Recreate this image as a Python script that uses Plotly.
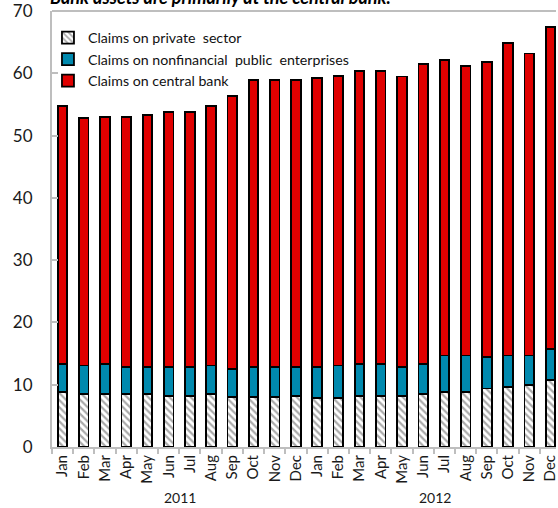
import plotly.graph_objects as go

months = ["Jan", "Feb", "Mar", "Apr", "May", "Jun", "Jul", "Aug", "Sep", "Oct", "Nov", "Dec"]
years = ["2011", "2012"]
categories = [f"{m} {y}" for y in years for m in months]
tick_labels = months * 2
y_ticks = [0, 10, 20, 30, 40, 50, 60, 70]

# Values in percent (stacked)
private_sector = [8.8, 8.5, 8.5, 8.5, 8.5, 8.2, 8.2, 8.5, 8.0, 8.0, 8.0, 8.2,
                  7.9, 7.9, 8.2, 8.2, 8.2, 8.5, 8.8, 8.8, 9.4, 9.7, 10.0, 10.8]
public_enterprises_top = [13.3, 13.1, 13.3, 12.8, 12.8, 12.8, 12.8, 13.1, 12.5, 12.8, 12.8, 12.8,
                          12.8, 13.1, 13.3, 13.3, 12.8, 13.3, 14.7, 14.7, 14.5, 14.7, 14.7, 15.7]
total = [54.8, 52.8, 53.0, 53.0, 53.3, 53.8, 53.8, 54.8, 56.4, 58.9, 58.9, 58.9,
         59.2, 59.6, 60.4, 60.4, 59.5, 61.5, 62.1, 61.2, 61.8, 64.9, 63.2, 67.5]

public_enterprises = [round(t - p, 2) for t, p in zip(public_enterprises_top, private_sector)]
central_bank = [round(t - p, 2) for t, p in zip(total, public_enterprises_top)]

FONT = "Lato"
AXIS_GRAY = "#BEBEBE"

fig = go.Figure()
fig.add_trace(go.Bar(
    x=categories, y=private_sector, name="Claims on private  sector",
    marker=dict(color="white",
                pattern=dict(shape="\\", fgcolor="#555555", bgcolor="white", size=5, solidity=0.45),
                line=dict(color="black", width=1.8)),
))
fig.add_trace(go.Bar(
    x=categories, y=public_enterprises, name="Claims on nonfinancial  public  enterprises",
    marker=dict(color="#0089AE", line=dict(color="black", width=1.8)),
))
fig.add_trace(go.Bar(
    x=categories, y=central_bank, name="Claims on central bank",
    marker=dict(color="#E00000", line=dict(color="black", width=1.8)),
))

fig.update_layout(
    width=558, height=508,
    margin=dict(l=52, r=0, t=11, b=61),
    barmode="stack", bargap=0.55,
    plot_bgcolor="white", paper_bgcolor="white",
    font=dict(family=FONT, color="#1a1a1a"),
    showlegend=True,
    legend=dict(x=-0.008, y=0.975, xanchor="left", yanchor="top",
                traceorder="normal", font=dict(size=14.2, family=FONT, color="#111111"),
                bgcolor="rgba(0,0,0,0)", itemwidth=30, tracegroupgap=0),
    xaxis=dict(
        type="category", range=[-0.5, 23.26],
        tickmode="array", tickvals=categories, ticktext=tick_labels,
        tickangle=-90, tickfont=dict(size=15, family=FONT),
        ticks="outside", tickson="boundaries", ticklen=5, tickcolor=AXIS_GRAY, tickwidth=2,
        showline=True, linecolor=AXIS_GRAY, linewidth=2, showgrid=False,
    ),
    yaxis=dict(
        range=[0, 70.02], tickmode="array", tickvals=y_ticks,
        tickfont=dict(size=17, family=FONT),
        ticks="inside", ticklen=6, tickcolor=AXIS_GRAY, tickwidth=2,
        ticklabelstandoff=14,
        showline=True, linecolor=AXIS_GRAY, linewidth=2, showgrid=False, zeroline=False,
    ),
    shapes=[dict(type="line", xref="paper", yref="paper", x0=0, x1=1, y0=1, y1=1,
                 line=dict(color=AXIS_GRAY, width=2))],
    annotations=[
        dict(text="<b><i>Bank assets are primarily at the central bank.</i></b>",
             xref="paper", yref="paper", x=0, y=1, xanchor="left", yanchor="bottom",
             xshift=-4, yshift=1, showarrow=False, font=dict(size=18, family=FONT, color="black")),
        dict(text=years[0], xref="x", yref="paper", x=categories[5], xshift=11,
             y=0, yanchor="top", yshift=-40, showarrow=False, font=dict(size=14, family=FONT)),
        dict(text=years[1], xref="x", yref="paper", x=categories[17], xshift=12,
             y=0, yanchor="top", yshift=-40, showarrow=False, font=dict(size=14, family=FONT)),
    ],
)

fig.write_html("out.html")
